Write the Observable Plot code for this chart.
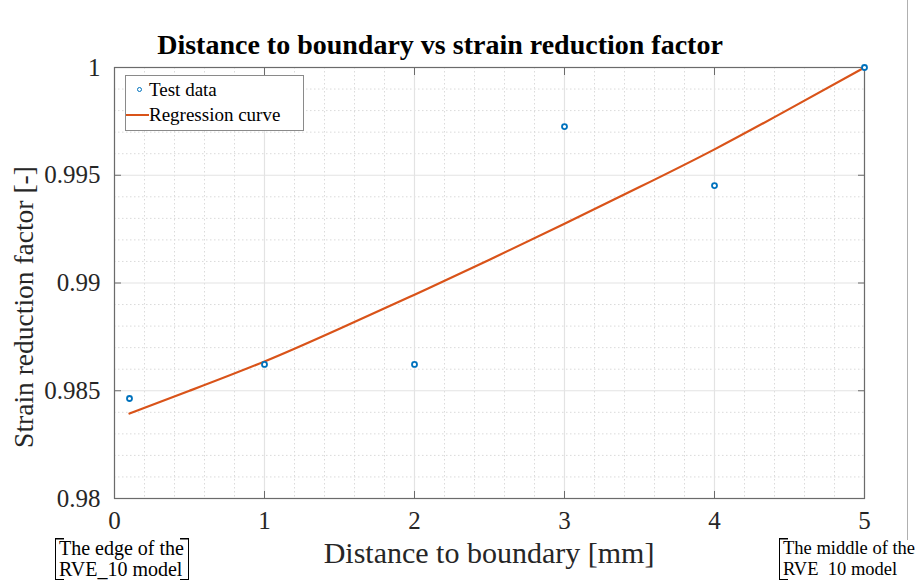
<!DOCTYPE html>
<html><head><meta charset="utf-8">
<script src="https://cdn.jsdelivr.net/npm/d3@7"></script>
<script src="https://cdn.jsdelivr.net/npm/@observablehq/plot@0.6"></script>
<style>
body{margin:0;background:#fff;}
#wrap{position:relative;width:922px;height:583px;font-family:"Liberation Serif","Times New Roman",serif;color:#262626;overflow:hidden;}
#wrap svg{position:absolute;left:0;top:0;}
.abs{position:absolute;white-space:nowrap;}
#title{left:440px;top:45px;transform:translate(-50%,-50%);font-weight:bold;font-size:28px;color:#000;}
#xlabel{left:489px;top:553px;transform:translate(-50%,-50%);font-size:30px;}
#ylabel{left:24px;top:307px;transform:translate(-50%,-50%) rotate(-90deg);font-size:27.5px;}
#legend{left:125px;top:75px;width:177px;height:54px;border:1px solid #8a8a8a;background:#fff;font-size:19px;color:#000;}
.lrow{position:absolute;left:0;height:24px;line-height:24px;}
.mk{position:absolute;left:11px;top:9px;width:3px;height:3px;border:1.6px solid #0072BD;border-radius:50%;}
.ln{position:absolute;left:0;top:11px;width:23px;height:2px;background:#D95319;}
.ann{font-size:20px;line-height:21px;color:#000;padding:0 4px 0 3px;
 border-left:1.5px solid #000;border-right:1.5px solid #000;
 background:
  linear-gradient(#000,#000) left top/8px 1.5px no-repeat,
  linear-gradient(#000,#000) left bottom/8px 1.5px no-repeat,
  linear-gradient(#000,#000) right top/8px 1.5px no-repeat,
  linear-gradient(#000,#000) right bottom/8px 1.5px no-repeat;}
#annL{left:55px;top:538px;}
#annR{left:779px;top:538px;font-size:18.5px;padding:0 2px 0 3px;border-right:none;background:
  linear-gradient(#000,#000) left top/8px 1.5px no-repeat,
  linear-gradient(#000,#000) left bottom/8px 1.5px no-repeat;}
#vline{left:907px;top:0;width:1px;height:540px;background:#b0b0b0;}
</style></head><body><div id="wrap"></div>
<script>
// Test data
const testX = [0.1, 1, 2, 3, 4, 5];
const testY = [0.98464, 0.98622, 0.98622, 0.99726, 0.99452, 1.0];
// Regression curve
const curveX = [0.1, 0.5, 1, 1.5, 2, 2.5, 3, 3.5, 4, 4.5, 5];
const curveY = [0.98394, 0.985, 0.98636, 0.98788, 0.98946, 0.99108, 0.99275, 0.99445, 0.9962, 0.99808, 1.0];
// Tick values
const xTicks = [0, 1, 2, 3, 4, 5];
const yTicks = [0.98, 0.985, 0.99, 0.995, 1];
const xMinor = [0.2,0.4,0.6,0.8,1.2,1.4,1.6,1.8,2.2,2.4,2.6,2.8,3.2,3.4,3.6,3.8,4.2,4.4,4.6,4.8];
const yMinor = [0.981,0.982,0.983,0.984,0.986,0.987,0.988,0.989,0.991,0.992,0.993,0.994,0.996,0.997,0.998,0.999];

const test = testX.map((x, i) => ({x, y: testY[i]}));
const curve = curveX.map((x, i) => ({x, y: curveY[i]}));

const axisColor = "#6b6b6b";
const chart = Plot.plot({
  width: 922, height: 583,
  marginLeft: 114, marginRight: 58, marginTop: 67, marginBottom: 85,
  x: {domain: [0, 5]},
  y: {domain: [0.98, 1.0]},
  style: {fontFamily: "'Liberation Serif', serif", fontSize: "25px", color: "#262626", background: "transparent"},
  marks: [
    Plot.ruleX(xMinor, {stroke: "#dadada", strokeDasharray: "1.5,2.5"}),
    Plot.ruleY(yMinor, {stroke: "#dadada", strokeDasharray: "1.5,2.5"}),
    Plot.ruleX(xTicks, {stroke: "#e3e3e3", strokeWidth: 1.2}),
    Plot.ruleY(yTicks, {stroke: "#e3e3e3", strokeWidth: 1.2}),
    Plot.frame({stroke: axisColor, strokeWidth: 1.2}),
    Plot.axisX({anchor: "bottom", ticks: xTicks, tickSize: -7, tickPadding: 20, tickFormat: d => String(d), label: null, stroke: axisColor, fontSize: 25, fill: "#262626"}),
    Plot.axisX({anchor: "top", ticks: xTicks, tickSize: -7, tickFormat: () => "", label: null, stroke: axisColor}),
    Plot.axisY({anchor: "left", ticks: yTicks, tickSize: -7, tickPadding: 21, tickFormat: d => String(d), label: null, stroke: axisColor, fontSize: 25, fill: "#262626"}),
    Plot.axisY({anchor: "right", ticks: yTicks, tickSize: -7, tickFormat: () => "", label: null, stroke: axisColor}),
    Plot.line(curve, {x: "x", y: "y", stroke: "#D95319", strokeWidth: 2.2, curve: "natural"}),
    Plot.dot(test, {x: "x", y: "y", r: 2.5, stroke: "#0072BD", strokeWidth: 1.8, fill: "white"})
  ]
});
const wrap = document.getElementById("wrap");
wrap.appendChild(chart);
wrap.insertAdjacentHTML("beforeend", `
<div class="abs" id="vline"></div>
<div class="abs" id="title">Distance to boundary vs strain reduction factor</div>
<div class="abs" id="xlabel">Distance to boundary [mm]</div>
<div class="abs" id="ylabel">Strain reduction factor [-]</div>
<div class="abs" id="legend">
  <div class="lrow" style="top:2px;width:100%"><span class="mk"></span><span style="position:absolute;left:23px">Test data</span></div>
  <div class="lrow" style="top:27px;width:100%"><span class="ln"></span><span style="position:absolute;left:23px">Regression curve</span></div>
</div>
<div class="abs ann" id="annL">The edge of the<br>RVE_10 model</div>
<div class="abs ann" id="annR">The middle of the<br>RVE&nbsp;&nbsp;10 model</div>
`);
</script></body></html>
